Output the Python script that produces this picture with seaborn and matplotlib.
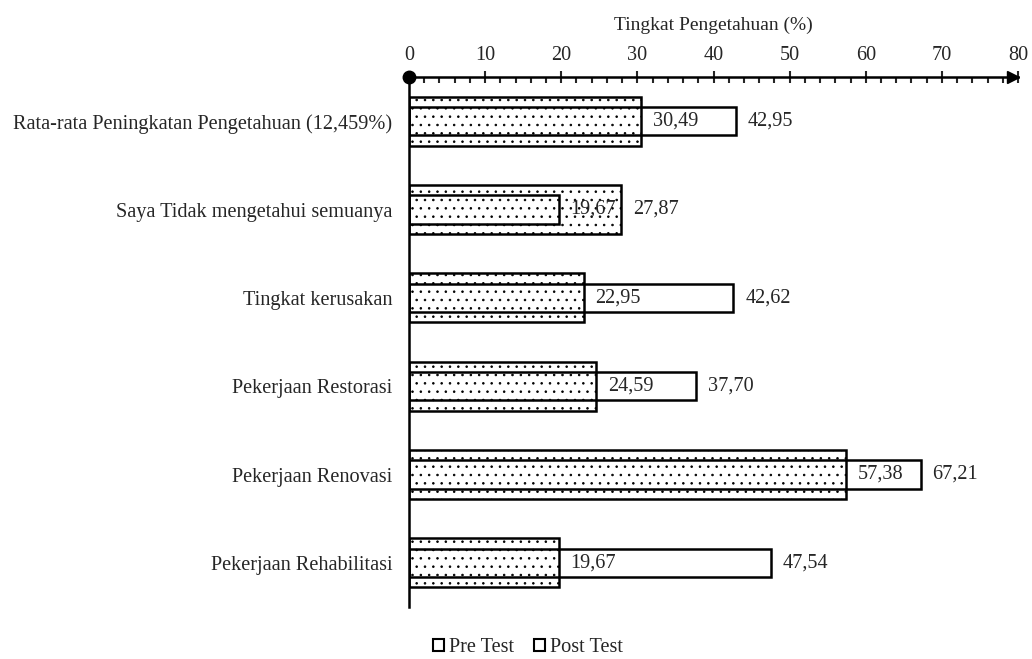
import matplotlib
matplotlib.use("Agg")
import matplotlib.pyplot as plt
import seaborn as sns
import pandas as pd
from matplotlib.patches import Patch

categories = [
    "Rata-rata Peningkatan Pengetahuan (12,459%)",
    "Saya Tidak mengetahui semuanya",
    "Tingkat kerusakan",
    "Pekerjaan Restorasi",
    "Pekerjaan Renovasi",
    "Pekerjaan Rehabilitasi",
]
pre_test = [30.49, 27.87, 22.95, 24.59, 57.38, 19.67]
post_test = [42.95, 19.67, 42.62, 37.70, 67.21, 47.54]
pre_labels = ["30,49", "27,87", "22,95", "24,59", "57,38", "19,67"]
post_labels = ["42,95", "19,67", "42,62", "37,70", "67,21", "47,54"]
x_ticks = [0, 10, 20, 30, 40, 50, 60, 70, 80]

sns.set_style("white")
plt.rcParams["font.family"] = ["Liberation Serif", "DejaVu Serif"]
plt.rcParams["hatch.linewidth"] = 0.6
plt.rcParams["hatch.color"] = "#222222"

FS = 14.6

df = pd.DataFrame({"cat": categories, "pre": pre_test, "post": post_test})

fig = plt.figure(figsize=(10.32, 6.59), dpi=100)
ax = fig.add_axes([409 / 1032, 52 / 659, 609 / 1032, 530 / 659])

sns.barplot(data=df, x="pre", y="cat", orient="h", width=0.555, color="white",
            edgecolor="black", linewidth=1.8, hatch="..", ax=ax, zorder=2)
sns.barplot(data=df, x="post", y="cat", orient="h", width=0.32, fill=False,
            edgecolor="black", linewidth=1.8, ax=ax, zorder=3)

pre_bars = ax.containers[0]
post_bars = ax.containers[1]
ax.bar_label(pre_bars, labels=pre_labels, padding=8.5, fontsize=FS)
ax.bar_label(post_bars, labels=post_labels, padding=8.5, fontsize=FS)

ax.set_xlim(0, 80)
ax.set_ylim(5.5, -0.5)
ax.set_xticks(x_ticks)
ax.set_xticks([v for v in range(0, 81, 2) if v % 10 != 0], minor=True)
ax.xaxis.tick_top()
ax.xaxis.set_label_position("top")
ax.set_xlabel("Tingkat Pengetahuan (%)", fontsize=14, labelpad=12)
ax.set_ylabel("")
ax.tick_params(axis="x", which="major", direction="inout", length=9, width=1.5,
               labelsize=FS, pad=4, top=True, bottom=False)
ax.tick_params(axis="x", which="minor", direction="in", length=4, width=1.5,
               top=True, bottom=False)
ax.tick_params(axis="y", length=0, labelsize=FS, pad=12)

for s in ["right", "bottom"]:
    ax.spines[s].set_visible(False)
for s in ["top", "left"]:
    ax.spines[s].set_linewidth(1.8)
    ax.spines[s].set_color("black")

ax.plot([0], [-0.5], marker="o", markersize=9, color="black", clip_on=False, zorder=5)
ax.plot([79.3], [-0.5], marker=">", markersize=9, color="black", clip_on=False, zorder=5)

handles = [Patch(facecolor="white", edgecolor="black", linewidth=1.5),
           Patch(facecolor="white", edgecolor="black", linewidth=1.5)]
fig.legend(handles, ["Pre Test", "Post Test"], loc="center",
           bbox_to_anchor=(528 / 1032, 11 / 659), ncol=2, frameon=False, fontsize=FS,
           handlelength=0.55, handleheight=0.55, handletextpad=0.25, columnspacing=1.0,
           borderpad=0.1)

fig.savefig("out.png", dpi=100)
